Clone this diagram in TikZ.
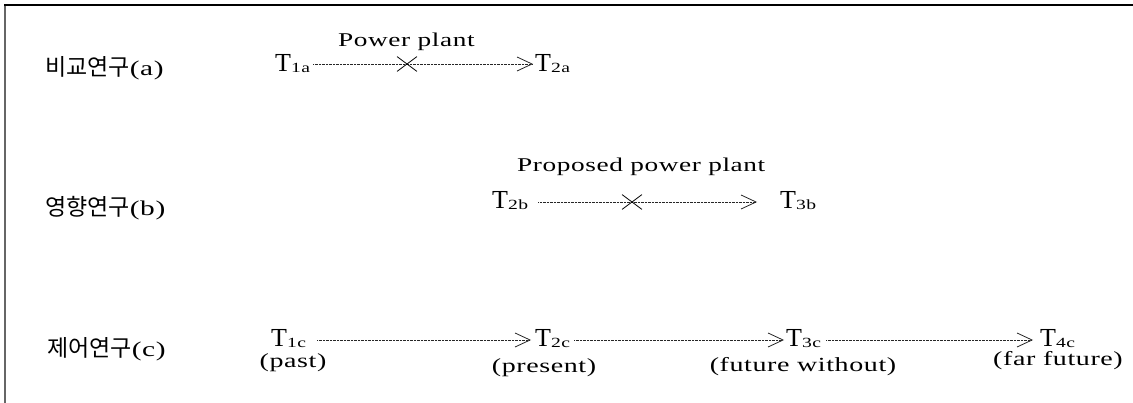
\documentclass[tikz,border=0pt]{standalone}
\usepackage{fontspec}
\setmainfont{Liberation Serif}
\newfontfamily\lat{Liberation Serif}[FakeStretch=1.4,LetterSpace=3]
\newfontfamily\kr{Noto Sans CJK KR}
\usetikzlibrary{arrows.meta,shapes.misc}
\newcommand\Tlab[1]{{\fontsize{26}{26}\selectfont T}\raisebox{-1pt}{\lat\fontsize{14}{14}\selectfont #1}}
\newcommand\KLab[2]{{\kr\fontsize{23}{23}\selectfont #1}{\lat\fontsize{21}{21}\selectfont (#2)}}
\begin{document}
\begin{tikzpicture}[x=1pt,y=-1pt,
  tlab/.style={inner sep=0pt, anchor=base west},
  rowlab/.style={inner sep=0pt, anchor=base west},
  note/.style={inner sep=0pt, anchor=base, font=\lat\fontsize{20}{20}\selectfont},
  plant/.style={inner sep=0pt, anchor=base west, font=\lat\fontsize{19.5}{19.5}\selectfont},
  flow/.style={draw=black!85, line width=0.6pt, dash pattern=on 0.7pt off 0.7pt,
    -{Straight Barb[length=15pt,width=14pt,line width=0.8pt]}},
  crossx/.style={shape=cross out, draw=black, solid, line width=0.8pt, inner sep=0pt,
    minimum width=19pt, minimum height=14pt},
  frame/.style={line width=1.6pt}]
\useasboundingbox (0,0) rectangle (1133,403);
% frame
\coordinate (c0) at (5,403);
\coordinate (c1) at (5,5);
\coordinate (c2) at (1133,5);
\draw[frame, draw=black!60] (c0) -- (c1);
\draw[frame, draw=black] ([xshift=-0.8pt]c1) -- (c2);
% row labels
\node[rowlab] (la) at (45,76) {\KLab{비교연구}{a}};
\node[rowlab] (lb) at (45,216) {\KLab{영향연구}{b}};
\node[rowlab] (lc) at (47,356) {\KLab{제어연구}{c}};
% row a
\node[tlab] (t1a) at (275,72) {\Tlab{1a}};
\node[tlab] (t2a) at (535,72) {\Tlab{2a}};
\coordinate (ya) at (0,64);
\draw[flow, shorten <=3pt, shorten >=2pt] (t1a.east |- ya) -- (t2a.west |- ya);
\node[crossx] (xa) at (407,64) {};
\node[plant] (pa) at (338,47) {Power plant};
% row b
\node[tlab] (t2b) at (492,209) {\Tlab{2b}};
\node[tlab] (t3b) at (780,209) {\Tlab{3b}};
\coordinate (yb) at (0,202);
\draw[flow, shorten <=10pt, shorten >=23pt] (t2b.east |- yb) -- (t3b.west |- yb);
\node[crossx] (xb) at (632,202) {};
\node[plant] (pb) at (517,172) {Proposed power plant};
% row c
\node[tlab] (t1c) at (271,347) {\Tlab{1c}};
\node[tlab] (t2c) at (535,347) {\Tlab{2c}};
\node[tlab] (t3c) at (786,347) {\Tlab{3c}};
\node[tlab] (t4c) at (1040,347) {\Tlab{4c}};
\coordinate (yc) at (0,340);
\draw[flow, shorten <=11pt, shorten >=4pt] (t1c.east |- yc) -- (t2c.west |- yc);
\draw[flow, shorten <=4pt, shorten >=2pt] (t2c.east |- yc) -- (t3c.west |- yc);
\draw[flow, shorten <=5pt, shorten >=7pt] (t3c.east |- yc) -- (t4c.west |- yc);
\node[note] (n1) at (293,368) {(past)};
\node[note] (n2) at (544,373) {(present)};
\node[note] (n3) at (803,372) {(future without)};
\node[note] (n4) at (1058,366) {(far future)};
\end{tikzpicture}
\end{document}
